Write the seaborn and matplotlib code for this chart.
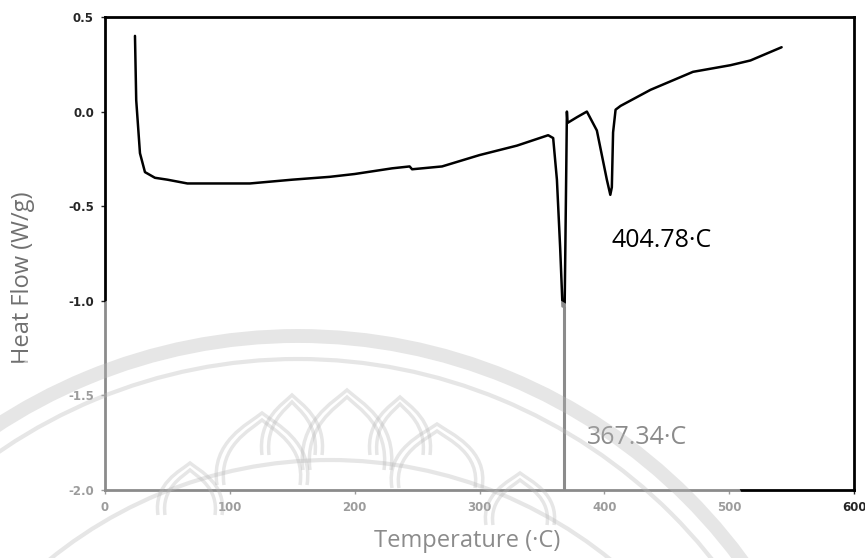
import numpy as np
import matplotlib
matplotlib.use("Agg")
import matplotlib.pyplot as plt
import matplotlib.transforms as mtransforms
from matplotlib.patches import Ellipse, Arc, PathPatch
from matplotlib.path import Path
import seaborn as sns

# DSC curve
temp = [24, 25, 28, 32, 40, 50, 66, 90, 116, 150, 180, 200, 230, 244, 246, 270,
        300, 330, 355, 359, 362, 364.6, 366.5, 368.2, 369.5, 370, 370.5, 378,
        386, 394, 402, 404.78, 406, 407, 409, 413, 437, 471, 501, 517, 542]
heat_flow = [0.40, 0.06, -0.22, -0.32, -0.35, -0.36, -0.38, -0.38, -0.38, -0.36,
             -0.345, -0.33, -0.30, -0.29, -0.305, -0.29, -0.23, -0.18, -0.125,
             -0.14, -0.36, -0.72, -1.03, -1.03, -0.30, 0.0, -0.06, -0.03, 0.0,
             -0.10, -0.36, -0.44, -0.40, -0.11, 0.01, 0.03, 0.115, 0.21, 0.245,
             0.27, 0.34]

peak1_temp = 367.34
peak1_min = -1.03
peak2_temp = 404.78

x_ticks = [0, 100, 200, 300, 400, 500, 600]
y_ticks = [0.5, 0.0, -0.5, -1.0, -1.5, -2.0]
y_ticklabels = ["0.5", "0.0", "-0.5", "-1.0", "-1.5", "-2.0"]

sns.set_style("white")
plt.rcParams["font.family"] = ["Open Sans", "DejaVu Sans"]

fig = plt.figure(figsize=(8.65, 5.58), dpi=100)
ax = fig.add_axes([0.1214, 0.1219, 0.8659, 0.8477])

sns.lineplot(x=temp, y=heat_flow, sort=False, estimator=None, color="black",
             lw=1.8, ax=ax)
ax.vlines(peak1_temp, -2.0, peak1_min, color="black", lw=2.2)

ax.set_xlim(0, 600)
ax.set_ylim(-2.0, 0.5)
ax.set_xticks(x_ticks)
ax.set_xticklabels([str(t) for t in x_ticks], fontsize=8.5, fontweight="bold",
                   family="DejaVu Sans")
ax.set_yticks(y_ticks)
ax.set_yticklabels(y_ticklabels, fontsize=8.5, fontweight="bold",
                   family="DejaVu Sans")
ax.set_xticks(np.arange(0, 601, 25), minor=True)
ax.set_yticks(np.arange(-2.0, 0.51, 0.1), minor=True)
ax.tick_params(which="major", direction="out", length=3, width=1, pad=5)
ax.tick_params(which="minor", direction="out", length=2, width=0.8)
ax.tick_params(left=True, bottom=True)
for s in ax.spines.values():
    s.set_color("black")
    s.set_linewidth(2)

ax.set_xlabel("Temperature (·C)", fontsize=17, color="black", va="center")
ax.xaxis.set_label_coords(0.483, -0.108)
ax.set_ylabel("Heat Flow (W/g)", fontsize=17, color="#707070")
ax.yaxis.set_label_coords(-0.093, 0.448)

ax.text(406, -0.68, "404.78·C", fontsize=18, color="black", va="center", ha="left")
ax.text(386, -1.725, "367.34·C", fontsize=18, color="black", va="center", ha="left")

# faded watermark: lighten lower part, draw seal arcs and lotus petals
px = mtransforms.IdentityTransform()
H = 558
fade = Ellipse((334, H - 695), 910, 910, transform=px, facecolor="white",
               edgecolor="none", alpha=0.55, zorder=10)
fig.add_artist(fade)
wm = dict(transform=px, edgecolor="#b8b8b8", alpha=0.35, zorder=11)
for r, w in [(551, 10), (528, 3)]:
    fig.add_artist(Arc((298, H - 887), 2 * r, 2 * r, lw=w, **wm))
fig.add_artist(Arc((330, H - 905), 2 * 445, 2 * 445, lw=3, **wm))


def petal(bx, by, w, h):
    pts = [(bx - w, by), (bx - w * 1.15, by - h * 0.6), (bx - w * 0.3, by - h * 0.85),
           (bx, by - h), (bx + w * 0.3, by - h * 0.85), (bx + w * 1.15, by - h * 0.6),
           (bx + w, by)]
    verts = [(x, H - y) for x, y in pts]
    codes = [Path.MOVETO] + [Path.CURVE4] * 6
    return Path(verts, codes)


petals = [(292, 455, 30, 60), (400, 455, 30, 58), (347, 470, 44, 80),
          (262, 485, 45, 72), (437, 488, 45, 64), (190, 515, 32, 52),
          (520, 525, 34, 52)]
for bx, by, w, h in petals:
    for d in (0, 7):
        fig.add_artist(PathPatch(petal(bx, by, w - d, h - d), facecolor="none",
                                 lw=2.5, **wm))

fig.savefig("out.png", dpi=100)
